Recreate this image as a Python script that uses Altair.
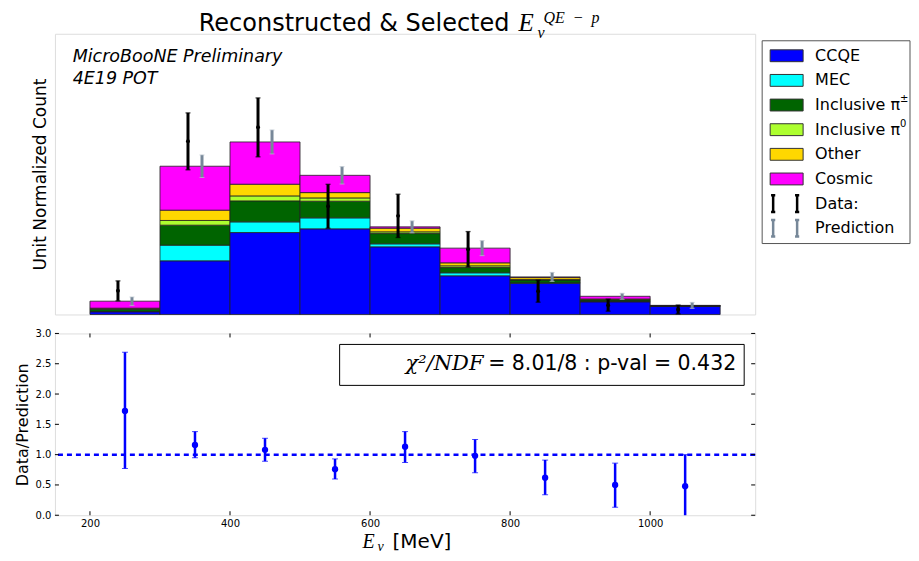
import altair as alt
import pandas as pd

# ---------------- data ----------------
bin_lo = [200, 300, 400, 500, 600, 700, 800, 900, 1000]
bin_hi = [300, 400, 500, 600, 700, 800, 900, 1000, 1100]

categories = ["CCQE", "MEC", "Inclusive π±", "Inclusive π0", "Other", "Cosmic"]
colors = ["#0000ff", "#00ffff", "#006400", "#adff2f", "#ffd700", "#ff00ff"]

ccqe = [2.7, 53.7, 82.0, 85.7, 67.7, 38.7, 31.3, 12.7, 8.3]
mec = [0.3, 15.7, 10.7, 11.0, 3.0, 3.0, 0.3, 0.2, 0.1]
incl_pipm = [2.3, 20.0, 21.0, 16.7, 10.3, 5.3, 3.0, 1.7, 0.3]
incl_pi0 = [0.3, 4.7, 5.0, 3.3, 1.7, 1.7, 0.3, 0.2, 0.1]
other = [0.7, 10.3, 11.7, 5.3, 3.7, 3.0, 2.0, 0.7, 0.1]
cosmic = [7.0, 44.0, 42.3, 17.3, 1.3, 14.7, 0.7, 2.7, 0.2]

pred_err = [4.2, 11.3, 12.0, 8.7, 6.0, 7.5, 4.5, 3.0, 3.0]
data_val = [23.7, 173.3, 187.3, 108.3, 98.7, 65.3, 23.3, 9.3, 5.0]
data_err = [10.0, 28.5, 29.5, 22.0, 21.7, 17.7, 11.0, 6.0, 4.4]

ratio_val = [1.72, 1.16, 1.08, 0.76, 1.13, 0.98, 0.62, 0.50, 0.48]
ratio_lo = [0.77, 0.95, 0.89, 0.60, 0.87, 0.70, 0.34, 0.13, -0.04]
ratio_hi = [2.69, 1.38, 1.27, 0.93, 1.38, 1.25, 0.91, 0.86, 1.00]

x_ticks = [200, 400, 600, 800, 1000]
y_ticks = [0.0, 0.5, 1.0, 1.5, 2.0, 2.5, 3.0]
ref_line = [1.0]

legend_text = ["CCQE", "MEC", "Inclusive π", "Inclusive π", "Other", "Cosmic", "Data:", "Prediction"]
legend_sup = ["", "", "±", "0", "", "", "", ""]
legend_col = colors + ["black", "#778899"]

# ---------------- tables ----------------
series = [ccqe, mec, incl_pipm, incl_pi0, other, cosmic]
rows = []
for i in range(len(bin_lo)):
    for k, cat in enumerate(categories):
        rows.append(dict(lo=bin_lo[i], hi=bin_hi[i], cat=cat, ord=k, v=series[k][i]))
bars_df = pd.DataFrame(rows)

centers = [(a + b) / 2 for a, b in zip(bin_lo, bin_hi)]
pred_tot = [sum(s[i] for s in series) for i in range(len(bin_lo))]
err_df = pd.DataFrame(dict(
    c=centers,
    dv=data_val,
    dlo=[v - e for v, e in zip(data_val, data_err)],
    dhi=[v + e for v, e in zip(data_val, data_err)],
    pv=pred_tot,
    plo=[v - e for v, e in zip(pred_tot, pred_err)],
    phi=[v + e for v, e in zip(pred_tot, pred_err)],
))
ratio_df = pd.DataFrame(dict(c=centers, r=ratio_val, lo=ratio_lo, hi=ratio_hi))
leg_df = pd.DataFrame(dict(k=list(range(8)), t=legend_text, s=legend_sup, col=legend_col))
one = pd.DataFrame(dict(a=[0]))

W, H1, H2 = 701, 281, 182
FONT = "DejaVu Sans"
SERIF = "Liberation Serif"

xscale = alt.Scale(domain=[150, 1150], nice=False, zero=False)
ytop = alt.Scale(domain=[0, 281], nice=False)
yaxis_top = alt.Axis(title="Unit Normalized Count", labels=False, ticks=False, domain=False,
                     grid=False, titleFontSize=17, titlePadding=5, titleFontWeight="normal",
                     titleFont=FONT, titleColor="black")


def txt(text, x, y, size, font=FONT, style="normal", align="left", baseline="alphabetic"):
    return alt.Chart(one).mark_text(text=text, font=font, fontSize=size, fontStyle=style,
                                    align=align, baseline=baseline, color="black").encode(
        x=alt.value(x), y=alt.value(y))


# ---------------- top panel ----------------
bars = alt.Chart(bars_df).transform_stack(
    stack="v", groupby=["lo"], as_=["v0", "v1"], sort=[alt.SortField("ord", order="ascending")]
).mark_rect(stroke="#222", strokeWidth=0.8, opacity=1).encode(
    x=alt.X("lo:Q", scale=xscale, axis=None),
    x2="hi:Q",
    y=alt.Y("v0:Q", scale=ytop, axis=yaxis_top),
    y2="v1:Q",
    color=alt.Color("cat:N", scale=alt.Scale(domain=categories, range=colors), legend=None),
)

errbase = alt.Chart(err_df).transform_calculate(xd="datum.c - 10", xp="datum.c + 10")
d_rule = errbase.mark_rule(color="black", strokeWidth=3).encode(
    x=alt.X("xd:Q", scale=xscale, axis=None), y=alt.Y("dlo:Q", scale=ytop, axis=yaxis_top), y2="dhi:Q")
d_cap1 = errbase.mark_tick(orient="horizontal", size=5, thickness=1.3, color="black").encode(
    x=alt.X("xd:Q", scale=xscale, axis=None), y=alt.Y("dlo:Q", scale=ytop, axis=yaxis_top))
d_cap2 = errbase.mark_tick(orient="horizontal", size=5, thickness=1.3, color="black").encode(
    x=alt.X("xd:Q", scale=xscale, axis=None), y=alt.Y("dhi:Q", scale=ytop, axis=yaxis_top))
d_pt = errbase.mark_circle(size=16, color="black", opacity=1).encode(
    x=alt.X("xd:Q", scale=xscale, axis=None), y=alt.Y("dv:Q", scale=ytop, axis=yaxis_top))
p_rule = errbase.mark_rule(color="#778899", strokeWidth=3).encode(
    x=alt.X("xp:Q", scale=xscale, axis=None), y=alt.Y("plo:Q", scale=ytop, axis=yaxis_top), y2="phi:Q")
p_cap1 = errbase.mark_tick(orient="horizontal", size=5, thickness=1, color="#b8c2cc").encode(
    x=alt.X("xp:Q", scale=xscale, axis=None), y=alt.Y("plo:Q", scale=ytop, axis=yaxis_top))
p_cap2 = errbase.mark_tick(orient="horizontal", size=5, thickness=1, color="#b8c2cc").encode(
    x=alt.X("xp:Q", scale=xscale, axis=None), y=alt.Y("phi:Q", scale=ytop, axis=yaxis_top))

main = alt.layer(bars, d_rule, d_cap1, d_cap2, d_pt, p_rule, p_cap1, p_cap2)

# legend (own point scale on y)
leg_y = alt.Y("k:O", scale=alt.Scale(type="point", domain=list(range(8)), range=[22, 194.7], padding=0), axis=None)
leg_frame = alt.Chart(one).mark_rect(fill="white", stroke="#555", strokeWidth=1).encode(
    x=alt.value(708), x2=alt.value(856), y=alt.value(7), y2=alt.value(210))
leg_sw = alt.Chart(leg_df).transform_filter("datum.k < 6").mark_point(
    shape="M-1,-0.36H1V0.36H-1Z", size=1089, filled=True, opacity=1, stroke="#333", strokeWidth=1).encode(
    x=alt.value(732.5), y=leg_y, fill=alt.Color("col:N", scale=None))
errsym = "M0,-1V1M-0.25,-1H0.25M-0.25,1H0.25"
leg_e1 = alt.Chart(leg_df).transform_filter("datum.k >= 6").mark_point(
    shape=errsym, size=280, filled=False, opacity=1, strokeWidth=2.5).encode(
    x=alt.value(719), y=leg_y, stroke=alt.Color("col:N", scale=None))
leg_e2 = alt.Chart(leg_df).transform_filter("datum.k >= 6").mark_point(
    shape=errsym, size=280, filled=False, opacity=1, strokeWidth=2.5).encode(
    x=alt.value(743), y=leg_y, stroke=alt.Color("col:N", scale=None))
leg_t = alt.Chart(leg_df).mark_text(font=FONT, fontSize=16, align="left", baseline="middle", color="black").encode(
    x=alt.value(761), y=leg_y, text="t:N")
leg_s = alt.Chart(leg_df).transform_filter("datum.s != ''").mark_text(
    font=FONT, fontSize=10, align="left", baseline="middle", color="black", dy=-6).encode(
    x=alt.value(846), y=leg_y, text="s:N")
legend = alt.layer(leg_frame, leg_sw, leg_e1, leg_e2, leg_t, leg_s)

top_texts = [
    txt("MicroBooNE Preliminary", 17.7, 28.7, 17.5, style="italic"),
    txt("4E19 POT", 17.7, 50.3, 17.5, style="italic"),
    txt("Reconstructed & Selected", 144, -2.5, 24),
    txt("E", 464, -2.5, 25, font=SERIF, style="italic"),
    txt("ν", 483, 4, 16, font=SERIF, style="italic"),
    txt("QE\u2002−\u2002p", 489, -10.5, 16, font=SERIF, style="italic"),
]

top = alt.layer(main, legend, *top_texts).resolve_scale(y="independent").properties(width=W, height=H1)

# ---------------- bottom panel ----------------
yscale_b = alt.Scale(domain=[0, 3], nice=False)
xaxis_b = alt.Axis(values=x_ticks, format="d", labelFontSize=10, ticks=False, domain=False, grid=False,
                   labelPadding=3, title=None, labelColor="black", labelFont=FONT)
yaxis_b = alt.Axis(values=y_ticks, format=".1f", labelFontSize=10, ticks=False, domain=False, grid=False,
                   labelPadding=4, title="Data/Prediction", titleFontSize=16, titlePadding=5,
                   titleFontWeight="normal", titleFont=FONT, titleColor="black", labelColor="black",
                   labelFont=FONT)

ref = alt.Chart(pd.DataFrame(dict(y=ref_line))).mark_rule(
    color="#0000ff", strokeWidth=2.5, strokeDash=[5, 4]).encode(y=alt.Y("y:Q", scale=yscale_b, axis=yaxis_b))
r_rule = alt.Chart(ratio_df).mark_rule(color="#0000ff", strokeWidth=2.5, clip=True).encode(
    x=alt.X("c:Q", scale=xscale, axis=xaxis_b), y=alt.Y("lo:Q", scale=yscale_b, axis=yaxis_b), y2="hi:Q")
r_cap1 = alt.Chart(ratio_df).mark_tick(orient="horizontal", size=6, thickness=1, color="#0000ff", clip=True).encode(
    x=alt.X("c:Q", scale=xscale, axis=xaxis_b), y=alt.Y("lo:Q", scale=yscale_b, axis=yaxis_b))
r_cap2 = alt.Chart(ratio_df).mark_tick(orient="horizontal", size=6, thickness=1, color="#0000ff").encode(
    x=alt.X("c:Q", scale=xscale, axis=xaxis_b), y=alt.Y("hi:Q", scale=yscale_b, axis=yaxis_b))
r_pt = alt.Chart(ratio_df).mark_circle(size=40, color="#0000ff", opacity=1).encode(
    x=alt.X("c:Q", scale=xscale, axis=xaxis_b), y=alt.Y("r:Q", scale=yscale_b, axis=yaxis_b))

xt = pd.DataFrame(dict(t=x_ticks))
yt = pd.DataFrame(dict(t=y_ticks))
tick_b = alt.Chart(xt).mark_rule(color="black", strokeWidth=1).encode(
    x=alt.X("t:Q", scale=xscale, axis=xaxis_b), y=alt.value(H2), y2=alt.value(H2 - 4))
tick_t = alt.Chart(xt).mark_rule(color="black", strokeWidth=1).encode(
    x=alt.X("t:Q", scale=xscale, axis=xaxis_b), y=alt.value(0), y2=alt.value(4))
tick_l = alt.Chart(yt).mark_rule(color="black", strokeWidth=1).encode(
    y=alt.Y("t:Q", scale=yscale_b, axis=yaxis_b), x=alt.value(0), x2=alt.value(4))
tick_r = alt.Chart(yt).mark_rule(color="black", strokeWidth=1).encode(
    y=alt.Y("t:Q", scale=yscale_b, axis=yaxis_b), x=alt.value(W - 4), x2=alt.value(W))

box = alt.Chart(one).mark_rect(fill="white", stroke="black", strokeWidth=1).encode(
    x=alt.value(285), x2=alt.value(690), y=alt.value(11), y2=alt.value(52))

bottom_texts = [
    txt("χ²/NDF", 429, 37, 21, font="DejaVu Serif", style="italic", align="right"),
    txt("= 8.01/8 : p-val = 0.432", 682, 37, 20.5, align="right"),
    txt("E", 308, 214.5, 20, font=SERIF, style="italic"),
    txt("ν", 323, 218, 14, font=SERIF, style="italic"),
    txt("[MeV]", 338, 214.5, 20),
]

bottom = alt.layer(ref, r_rule, r_cap1, r_cap2, r_pt, tick_b, tick_t, tick_l, tick_r, box,
                   *bottom_texts).properties(width=W, height=H2)

chart = alt.vconcat(top, bottom, spacing=11).properties(
    padding={"left": 5, "top": 1.5, "right": 0, "bottom": 0}
).configure_view(stroke="#222", strokeWidth=1).configure(font=FONT)

chart.save("out.html", embed_options={"renderer": "svg", "actions": False})
